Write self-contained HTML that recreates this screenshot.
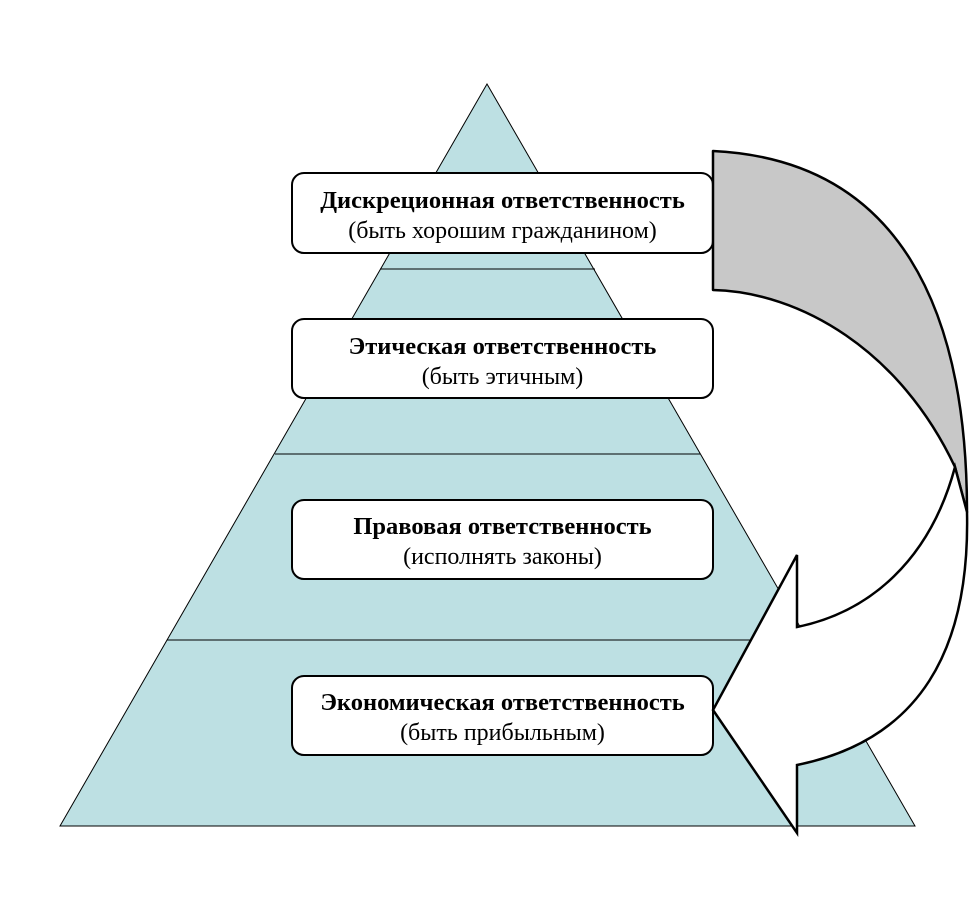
<!DOCTYPE html>
<html><head><meta charset="utf-8"><style>
html,body{margin:0;padding:0;background:#fff;}
body{width:975px;height:911px;position:relative;overflow:hidden;font-family:"Liberation Serif","DejaVu Serif",serif;}
.box{position:absolute;left:291px;width:423px;background:#fff;border:2px solid #000;border-radius:13px;text-align:center;color:#000;box-sizing:border-box;}
.b{font-weight:bold;font-size:24.5px;line-height:30px;}
.n{font-size:24px;line-height:30px;}
</style></head><body>
<svg width="975" height="911" style="position:absolute;left:0;top:0">
<polygon points="487,84 60,826 915,826" fill="#bde0e3" stroke="#000" stroke-width="1"/>
<line x1="380" y1="269" x2="595" y2="269" stroke="#000" stroke-width="1"/>
<line x1="275" y1="454" x2="700" y2="454" stroke="#000" stroke-width="1"/>
<line x1="167" y1="640" x2="808" y2="640" stroke="#000" stroke-width="1"/>
</svg>
<div class="box" style="top:172px;height:82px;padding-top:12px"><div class="b">Дискреционная ответственность</div><div class="n">(быть хорошим гражданином)</div></div>
<div class="box" style="top:318px;height:81px;padding-top:12px"><div class="b">Этическая ответственность</div><div class="n">(быть этичным)</div></div>
<div class="box" style="top:499px;height:81px;padding-top:11px"><div class="b">Правовая ответственность</div><div class="n">(исполнять законы)</div></div>
<div class="box" style="top:675px;height:81px;padding-top:11px"><div class="b">Экономическая ответственность</div><div class="n">(быть прибыльным)</div></div>
<svg width="975" height="911" style="position:absolute;left:0;top:0">
<path d="M713,151 C900,160 967,310 967,512 L955,467 C900,350 800,292 713,290 Z" fill="#c8c8c8" stroke="#000" stroke-width="2.5" stroke-linejoin="round"/>
<path d="M955,467 C930,560 870,612 797,627 L797,555 L713,710 L797,833 L797,765 C920,740 970,650 967,512 Z" fill="#fff" stroke="#000" stroke-width="2.5" stroke-linejoin="miter"/>
</svg>
</body></html>
